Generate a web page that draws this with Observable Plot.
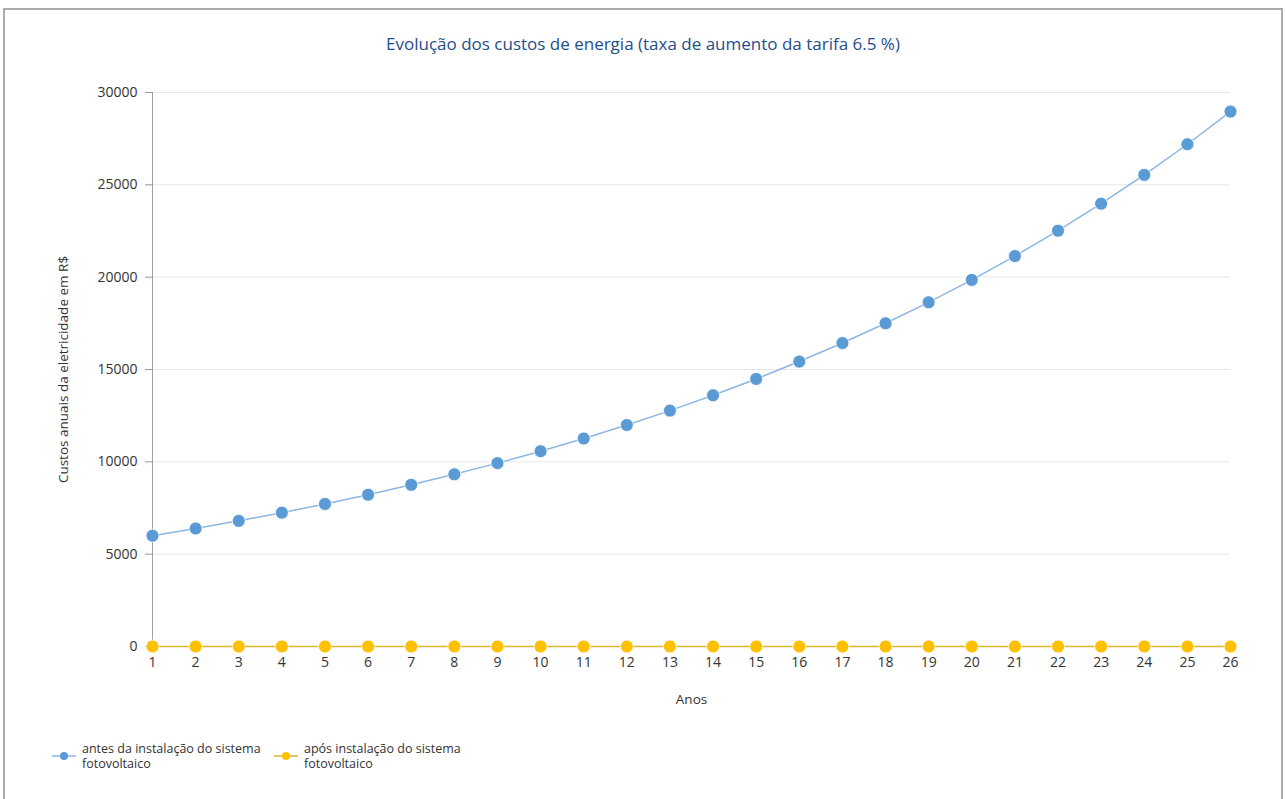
<!DOCTYPE html>
<html>
<head>
<meta charset="utf-8">
<script src="https://cdn.jsdelivr.net/npm/d3@7"></script>
<script src="https://cdn.jsdelivr.net/npm/@observablehq/plot@0.6"></script>
<style>
  html, body { margin: 0; padding: 0; background: #fff; width: 1286px; height: 799px; overflow: hidden; font-family: "Open Sans", "Liberation Sans", sans-serif; }
  #frame { position: absolute; left: 3px; top: 8px; width: 1276px; height: 820px; border: 2px solid #ababab; border-bottom: none; }
  #title { position: absolute; top: 32px; left: 0; width: 1286px; text-align: center; font-size: 17px; color: #1f4e8c; }
  #chart { position: absolute; top: 70px; left: 0; }
  #legend { position: absolute; top: 741px; left: 52px; display: flex; font-size: 12.5px; color: #333; line-height: 15px; }
  .item { display: flex; align-items: center; }
  .item svg { margin-right: 6px; }
  .item:first-child { width: 222px; }
</style>
</head>
<body>
<div id="frame"></div>
<div id="title">Evolução dos custos de energia (taxa de aumento da tarifa 6.5 %)</div>
<div id="chart"></div>
<div id="legend"></div>
<script>
const years = [1,2,3,4,5,6,7,8,9,10,11,12,13,14,15,16,17,18,19,20,21,22,23,24,25,26];
const antes = [6000,6390,6805,7248,7719,8220,8755,9324,9930,10575,11262,11994,12774,13604,14489,15430,16433,17502,18639,19851,21142,22516,23979,25538,27198,28966];
const apos = [0,0,0,0,0,0,0,0,0,0,0,0,0,0,0,0,0,0,0,0,0,0,0,0,0,0];
const yTicks = [0,5000,10000,15000,20000,25000,30000];
const seriesNames = [["antes da instalação do sistema", "fotovoltaico"], ["após instalação do sistema", "fotovoltaico"]];
const colors = { line: ["#8db6e3", "#d9b62e"], dot: ["#5b9bd5", "#ffc000"] };

const dataA = years.map((x, i) => ({x, y: antes[i]}));
const dataB = years.map((x, i) => ({x, y: apos[i]}));

const plot = Plot.plot({
  width: 1286,
  height: 640,
  marginLeft: 152,
  marginRight: 56,
  marginTop: 22,
  marginBottom: 64,
  style: { fontFamily: "Open Sans, Liberation Sans, sans-serif", fontSize: "14px", color: "#333" },
  x: { type: "linear", domain: [1, 26] },
  y: { domain: [0, 30000] },
  marks: [
    Plot.gridY(yTicks, { stroke: "#e6e6e6", strokeOpacity: 1 }),
    Plot.axisY({ ticks: yTicks, tickFormat: d => String(d), tickSize: 7, tickPadding: 8, stroke: "#999", fontSize: 14, label: null }),
    Plot.axisY({ ticks: [], label: "Custos anuais da eletricidade em R$", labelAnchor: "center", labelOffset: 94, labelArrow: "none", fontSize: 13.5 }),
    Plot.axisX({ ticks: years, tickFormat: d => String(d), tickSize: 6, tickPadding: 5, stroke: "#999", fontSize: 14, label: null }),
    Plot.axisX({ ticks: [], label: "Anos", labelAnchor: "center", labelOffset: 57, labelArrow: "none", fontSize: 13.5 }),
    Plot.ruleX([1], { stroke: "#a0a0a0" }),
    Plot.ruleY([0], { stroke: "#a0a0a0" }),
    Plot.line(dataA, { x: "x", y: "y", stroke: colors.line[0], strokeWidth: 1.5 }),
    Plot.line(dataB, { x: "x", y: "y", stroke: colors.line[1], strokeWidth: 1.5 }),
    Plot.dot(dataA, { x: "x", y: "y", r: 6.5, fill: colors.dot[0], stroke: "#fff", strokeWidth: 0.8 }),
    Plot.dot(dataB, { x: "x", y: "y", r: 6.5, fill: colors.dot[1], stroke: "#fff", strokeWidth: 0.8 })
  ]
});
document.getElementById("chart").appendChild(plot);

const legend = document.getElementById("legend");
seriesNames.forEach((lines, i) => {
  const item = document.createElement("div");
  item.className = "item";
  item.innerHTML = `<svg width="24" height="12"><line x1="0" x2="24" y1="6" y2="6" stroke="${colors.line[i]}" stroke-width="1.5"/><circle cx="12" cy="6" r="4" fill="${colors.dot[i]}"/></svg><div>${lines[0]}<br>${lines[1]}</div>`;
  legend.appendChild(item);
});
</script>
</body>
</html>
